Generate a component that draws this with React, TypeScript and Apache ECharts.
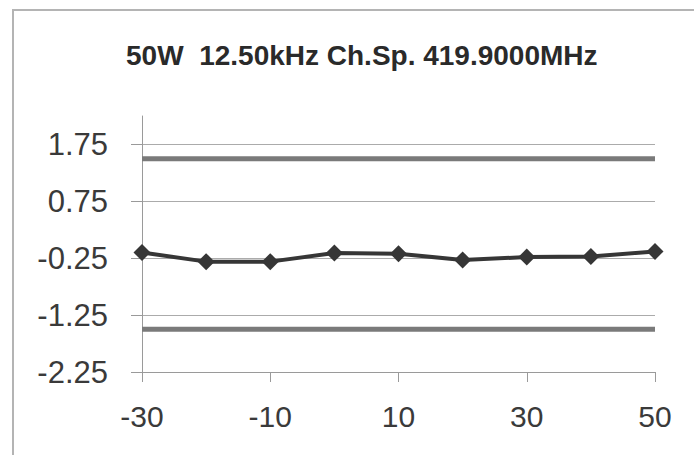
import React, { useEffect, useRef } from "react";
import * as echarts from "echarts";

const titleText = "50W  12.50kHz Ch.Sp. 419.9000MHz";
const temperatures = [-30, -20, -10, 0, 10, 20, 30, 40, 50];
const deviation = [-0.15, -0.31, -0.31, -0.16, -0.17, -0.28, -0.23, -0.22, -0.13];
const limitX = [-30, 50];
const upperLimit = [1.5, 1.5];
const lowerLimit = [-1.5, -1.5];
const yTicks = [-2.25, -1.25, -0.25, 0.75, 1.75];
const xTicks = [-30, -10, 10, 30, 50];

export default function App() {
  const ref = useRef<HTMLDivElement>(null);
  useEffect(() => {
    if (!ref.current) return;
    const chart = echarts.init(ref.current, null, { renderer: "svg" });
    const font = "'Liberation Sans', Arial, sans-serif";
    chart.setOption({
      animation: false,
      backgroundColor: "#ffffff",
      title: {
        text: titleText,
        left: 121,
        top: 36,
        textStyle: { fontFamily: font, fontSize: 28, fontWeight: "bold", color: "#2a2a2a" },
      },
      graphic: [
        {
          type: "rect",
          shape: { x: 13, y: 10, width: 720, height: 500 },
          style: { fill: "none", stroke: "#b4b4b4", lineWidth: 2 },
          silent: true,
        },
      ],
      grid: { left: 142, right: 39, top: 116, bottom: 83 },
      xAxis: {
        type: "value",
        min: xTicks[0],
        max: xTicks[xTicks.length - 1],
        interval: 20,
        axisLine: { show: true, onZero: false, lineStyle: { color: "#9a9a9a", width: 1 } },
        axisTick: { show: true, length: 10, lineStyle: { color: "#9a9a9a" } },
        splitLine: { show: false },
        axisLabel: { fontFamily: font, fontSize: 30, color: "#3a3a3a", margin: 29 },
      },
      yAxis: {
        type: "value",
        min: yTicks[0],
        max: 2.25,
        interval: 1,
        axisLine: { show: true, onZero: false, lineStyle: { color: "#9a9a9a", width: 1 } },
        axisTick: { show: true, length: 11, lineStyle: { color: "#9a9a9a" } },
        splitLine: { show: true, showMaxLine: false, lineStyle: { color: "#ababab", width: 1 } },
        axisLabel: {
          fontFamily: font,
          fontSize: 31,
          color: "#3a3a3a",
          margin: 34,
          showMaxLabel: false,
          formatter: (v: number) => v.toFixed(2),
        },
      },
      series: [
        {
          type: "line",
          data: limitX.map((x, i) => [x, upperLimit[i]]),
          symbol: "none",
          lineStyle: { color: "#7a7a7a", width: 5 },
          silent: true,
        },
        {
          type: "line",
          data: limitX.map((x, i) => [x, lowerLimit[i]]),
          symbol: "none",
          lineStyle: { color: "#7a7a7a", width: 5 },
          silent: true,
        },
        {
          type: "line",
          data: temperatures.map((t, i) => [t, deviation[i]]),
          symbol: "diamond",
          symbolSize: 17,
          itemStyle: { color: "#363636" },
          lineStyle: { color: "#363636", width: 4 },
          silent: true,
        },
      ],
    });
    return () => chart.dispose();
  }, []);
  return (
    <div
      ref={ref}
      style={{ position: "absolute", left: 0, top: 0, width: 694, height: 455 }}
    />
  );
}
